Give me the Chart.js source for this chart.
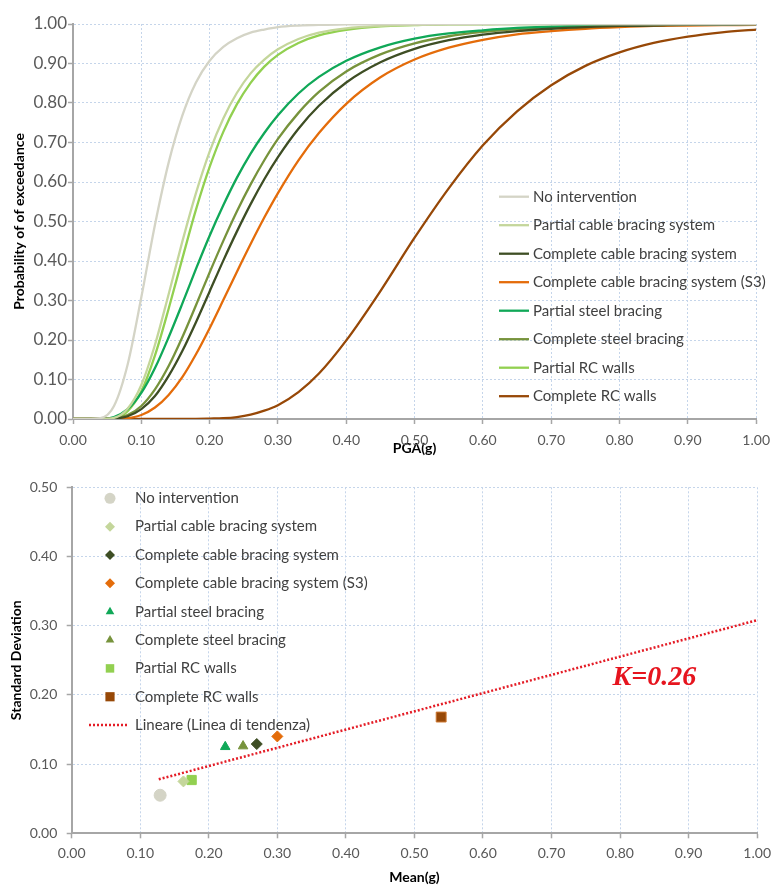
<!DOCTYPE html>
<html>
<head>
<meta charset="utf-8">
<title>Fragility curves</title>
<script src="https://cdn.jsdelivr.net/npm/chart.js@4.4.1/dist/chart.umd.min.js"></script>
<style>
  html, body { margin: 0; padding: 0; background: #fff; }
  canvas { display: block; }
</style>
</head>
<body>
<canvas id="fragility" width="778" height="460"></canvas>
<canvas id="dispersion" width="778" height="426"></canvas>
<script>
// PGA (g) positions where the curves were read
const pga = [0, 0.02, 0.04, 0.06, 0.08, 0.10, 0.12, 0.14, 0.16, 0.18, 0.20, 0.22, 0.24, 0.26, 0.28, 0.30,
  0.33, 0.36, 0.40, 0.45, 0.50, 0.55, 0.60, 0.65, 0.70, 0.75, 0.80, 0.85, 0.90, 0.95, 1.00];

// probability of exceedance, one value per pga entry
const noIntervention = [0, 0, 0.002, 0.033, 0.138, 0.308, 0.492, 0.649, 0.768, 0.852, 0.907, 0.942, 0.964, 0.978, 0.986, 0.992,
  0.996, 0.998, 0.999, 1, 1, 1, 1, 1, 1, 1, 1, 1, 1, 1, 1];
const partialCable = [0, 0, 0, 0.003, 0.026, 0.086, 0.188, 0.316, 0.449, 0.572, 0.677, 0.761, 0.826, 0.875, 0.910, 0.936,
  0.962, 0.978, 0.989, 0.995, 0.998, 0.999, 1, 1, 1, 1, 1, 1, 1, 1, 1];
const completeCable = [0, 0, 0, 0.001, 0.007, 0.025, 0.058, 0.109, 0.172, 0.245, 0.323, 0.401, 0.475, 0.544, 0.607, 0.663,
  0.735, 0.793, 0.852, 0.903, 0.937, 0.959, 0.973, 0.982, 0.988, 0.992, 0.995, 0.996, 0.998, 0.998, 0.999];
const completeCableS3 = [0, 0, 0, 0, 0.002, 0.010, 0.029, 0.061, 0.106, 0.164, 0.230, 0.301, 0.373, 0.443, 0.510, 0.572,
  0.655, 0.724, 0.798, 0.865, 0.910, 0.940, 0.960, 0.974, 0.982, 0.988, 0.992, 0.995, 0.996, 0.997, 0.998];
const partialSteel = [0, 0, 0, 0.005, 0.025, 0.066, 0.129, 0.207, 0.292, 0.380, 0.464, 0.541, 0.611, 0.672, 0.724, 0.769,
  0.824, 0.866, 0.907, 0.941, 0.963, 0.976, 0.984, 0.990, 0.993, 0.995, 0.997, 0.998, 0.999, 0.999, 0.999];
const completeSteel = [0, 0, 0, 0.002, 0.010, 0.033, 0.075, 0.134, 0.207, 0.288, 0.371, 0.451, 0.526, 0.594, 0.655, 0.709,
  0.775, 0.828, 0.880, 0.923, 0.951, 0.969, 0.980, 0.987, 0.992, 0.994, 0.996, 0.998, 0.998, 0.999, 0.999];
const partialRC = [0, 0, 0, 0.002, 0.020, 0.070, 0.161, 0.279, 0.406, 0.530, 0.638, 0.727, 0.797, 0.851, 0.892, 0.922,
  0.952, 0.971, 0.985, 0.994, 0.997, 0.999, 0.999, 1, 1, 1, 1, 1, 1, 1, 1];
const completeRC = [0, 0, 0, 0, 0, 0, 0, 0, 0, 0.0002, 0.001, 0.002, 0.005, 0.011, 0.021, 0.035,
  0.068, 0.115, 0.199, 0.324, 0.459, 0.584, 0.693, 0.779, 0.845, 0.894, 0.928, 0.952, 0.968, 0.979, 0.986];

const seriesNames = ["No intervention", "Partial cable bracing system", "Complete cable bracing system",
  "Complete cable bracing system (S3)", "Partial steel bracing", "Complete steel bracing",
  "Partial RC walls", "Complete RC walls"];
const curveValues = [noIntervention, partialCable, completeCable, completeCableS3,
  partialSteel, completeSteel, partialRC, completeRC];

// mean and standard deviation of each fragility curve (g)
const meanValues = [0.129, 0.163, 0.270, 0.300, 0.224, 0.250, 0.175, 0.539];
const stdValues = [0.055, 0.075, 0.129, 0.140, 0.125, 0.126, 0.077, 0.168];

// linear trend line end points
const trendMean = [0.127, 1.0];
const trendStd = [0.078, 0.308];
const trendName = "Lineare (Linea di tendenza)";
const slopeLabel = "K=0.26";

const colors = ["rgb(212,212,198)", "rgb(196,214,155)", "rgb(62,78,36)", "rgb(228,108,10)",
  "rgb(16,168,88)", "rgb(119,147,60)", "rgb(146,208,80)", "rgb(151,72,7)"];
const markers = ["circle", "rectRot", "rectRot", "rectRot", "triangle", "triangle", "rect", "rect"];
const markerSizes = [6, 5.5, 5.5, 5.5, 5.5, 5.5, 6.5, 7];

Chart.defaults.font.family = "Lato, 'Liberation Sans', sans-serif";
Chart.defaults.color = "#595959";

const gridColor = "rgb(197,213,234)";
const axisColor = "#a6a6a6";

function makeAxis(opts) {
  return {
    type: "linear",
    min: opts.min,
    max: opts.max,
    afterFit: opts.fit,
    grid: { color: gridColor, lineWidth: 1, tickLength: 5, tickColor: axisColor, tickWidth: 1.5 },
    border: { display: true, color: axisColor, width: 2, dash: [2, 2] },
    ticks: {
      stepSize: 0.1,
      padding: opts.pad,
      font: { size: opts.size },
      callback: v => v.toFixed(2),
    },
    title: {
      display: true,
      text: opts.title,
      color: "#000",
      font: { size: 14, weight: "bold" },
      padding: opts.titlePad,
    },
  };
}

// legend drawn inside the plot area
const insideLegend = {
  id: "insideLegend",
  afterDraw(chart, args, o) {
    const ctx = chart.ctx;
    ctx.save();
    ctx.font = "15px Lato";
    ctx.textBaseline = "middle";
    chart.data.datasets.forEach((ds, i) => {
      const y = o.top + i * o.row;
      if (ds.type === "line" || o.lines) {
        ctx.strokeStyle = ds.borderColor;
        ctx.lineWidth = ds.borderWidth;
        ctx.setLineDash(ds.borderDash || []);
        ctx.beginPath();
        ctx.moveTo(o.lineFrom, y);
        ctx.lineTo(o.lineTo, y);
        ctx.stroke();
        ctx.setLineDash([]);
      } else {
        drawMarker(ctx, ds.pointStyle, o.marker, y, ds.pointRadius - 0.5, ds.backgroundColor);
      }
      ctx.fillStyle = "#404040";
      ctx.fillText(ds.label, o.text, y);
    });
    ctx.restore();
  }
};

function drawMarker(ctx, style, x, y, r, color) {
  ctx.fillStyle = color;
  ctx.beginPath();
  if (style === "circle") {
    ctx.arc(x, y, r, 0, Math.PI * 2);
  } else if (style === "rectRot") {
    ctx.moveTo(x, y - r); ctx.lineTo(x + r, y); ctx.lineTo(x, y + r); ctx.lineTo(x - r, y);
  } else if (style === "triangle") {
    ctx.moveTo(x, y - r);
    ctx.lineTo(x + r * 0.866, y + r * 0.5);
    ctx.lineTo(x - r * 0.866, y + r * 0.5);
  } else {
    const h = r * 0.707;
    ctx.rect(x - h, y - h, 2 * h, 2 * h);
  }
  ctx.closePath();
  ctx.fill();
}

new Chart("fragility", {
  type: "line",
  data: {
    labels: pga,
    datasets: seriesNames.map((name, i) => ({
      label: name,
      data: pga.map((x, j) => ({ x: x, y: curveValues[i][j] })),
      borderColor: colors[i],
      backgroundColor: colors[i],
      borderWidth: 2.3,
      pointRadius: 0,
      cubicInterpolationMode: "monotone",
      fill: false,
    })),
  },
  options: {
    responsive: false,
    animation: false,
    devicePixelRatio: 1,
    layout: { padding: { top: 24, right: 17, left: 0, bottom: 0 } },
    plugins: {
      legend: { display: false },
      tooltip: { enabled: false },
      insideLegend: { lines: true, top: 196.7, row: 28.5, lineFrom: 499, lineTo: 529, text: 533 },
    },
    scales: {
      x: makeAxis({ min: 0, max: 1, size: 14, pad: 8, title: "PGA(g)",
        titlePad: { top: 0, bottom: 3 }, fit: s => { s.height = 41; } }),
      y: makeAxis({ min: 0, max: 1, size: 17, pad: 1, title: "Probability of of exceedance",
        titlePad: { top: 10.6, bottom: 0 }, fit: s => { s.width = 73; } }),
    },
  },
  plugins: [insideLegend],
});

const slopeText = {
  id: "slopeText",
  afterDatasetsDraw(chart, args, o) {
    const ctx = chart.ctx;
    ctx.save();
    ctx.font = "italic bold 28px 'Liberation Serif'";
    ctx.fillStyle = "rgb(230,20,30)";
    ctx.textBaseline = "middle";
    ctx.fillText(slopeLabel, chart.scales.x.getPixelForValue(o.x), chart.scales.y.getPixelForValue(o.y));
    ctx.restore();
  }
};

const scatterSets = seriesNames.map((name, i) => ({
  type: "scatter",
  label: name,
  data: [{ x: meanValues[i], y: stdValues[i] }],
  pointStyle: markers[i],
  pointRadius: markerSizes[i],
  backgroundColor: colors[i],
  borderColor: i === 7 ? "rgb(205,120,50)" : colors[i],
  borderWidth: 1,
}));
scatterSets.push({
  type: "line",
  label: trendName,
  data: trendMean.map((x, j) => ({ x: x, y: trendStd[j] })),
  borderColor: "rgb(228,28,38)",
  borderWidth: 2.5,
  borderDash: [2, 2],
  pointRadius: 0,
  fill: false,
});

new Chart("dispersion", {
  type: "scatter",
  data: { datasets: scatterSets },
  options: {
    responsive: false,
    animation: false,
    devicePixelRatio: 1,
    layout: { padding: { top: 27.3, right: 17.3, left: 0, bottom: 0 } },
    plugins: {
      legend: { display: false },
      tooltip: { enabled: false },
      insideLegend: { top: 38.3, row: 28.35, marker: 110, lineFrom: 89, lineTo: 128, text: 135 },
      slopeText: { x: 0.789, y: 0.225 },
    },
    scales: {
      x: makeAxis({ min: 0, max: 1, size: 14, pad: 7, title: "Mean(g)",
        titlePad: { top: 0, bottom: 0.6 }, fit: s => { s.height = 52.7; } }),
      y: makeAxis({ min: 0, max: 0.5, size: 14, pad: 9.4, title: "Standard Deviation",
        titlePad: { top: 8.3, bottom: 0 }, fit: s => { s.width = 71.7; } }),
    },
  },
  plugins: [insideLegend, slopeText],
});
</script>
</body>
</html>
